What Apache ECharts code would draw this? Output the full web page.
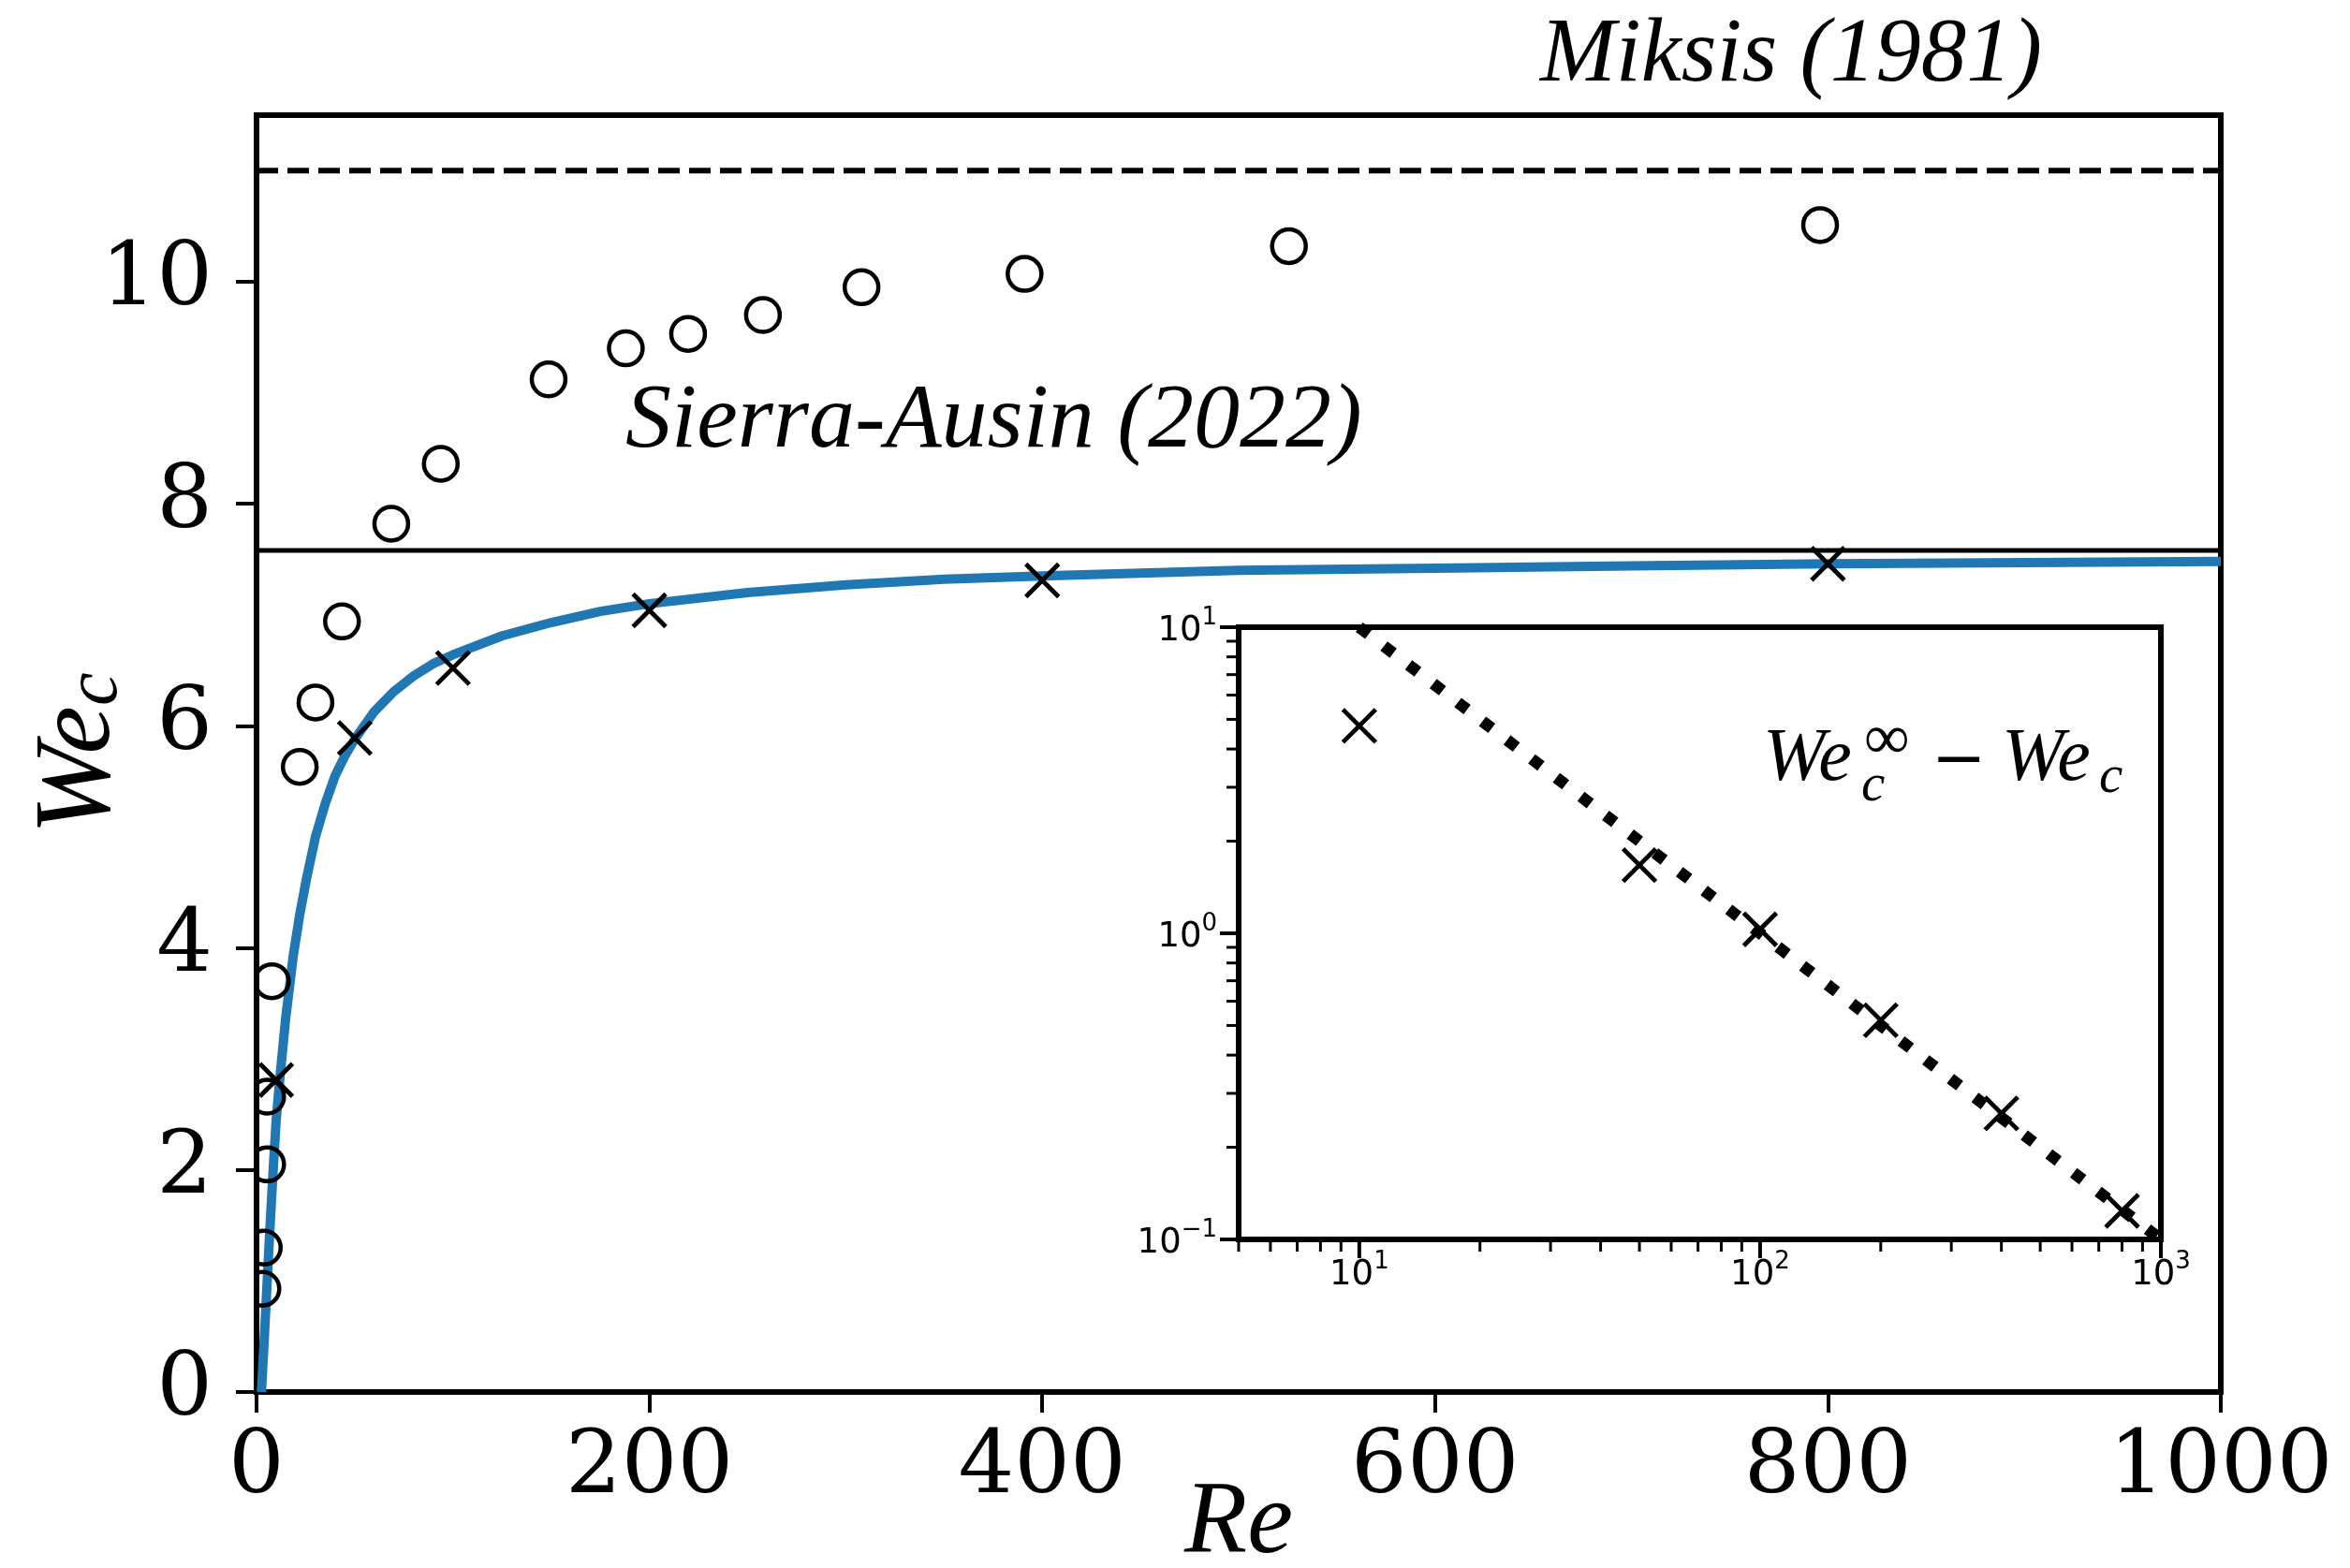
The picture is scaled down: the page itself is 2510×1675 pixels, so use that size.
<!DOCTYPE html>
<html>
<head>
<meta charset="utf-8">
<script src="https://cdn.jsdelivr.net/npm/echarts@6/dist/echarts.min.js"></script>
<style>
  html, body { margin: 0; padding: 0; background: #fff; }
  #chart { width: 2510px; height: 1675px; }
</style>
</head>
<body>
<div id="chart"></div>
<script>
// Critical Weber number We_c against Reynolds number Re

// Open circles: reference data set
const reCircles = [3, 3.7, 5.4, 5.4, 7.8, 22, 30, 43.5, 68.6, 93.8, 148.7, 188, 219.7, 257.8, 308, 391, 525.6, 796];
const weCircles = [0.93, 1.30, 2.05, 2.66, 3.70, 5.63, 6.21, 6.94, 7.82, 8.36, 9.12, 9.40, 9.53, 9.70, 9.95, 10.07, 10.32, 10.51];

// Crosses: computed thresholds
const reCrosses = [10, 50, 100, 200, 400, 800];
const weCrosses = [2.81, 5.89, 6.52, 7.04, 7.31, 7.46];

// Fitted curve through the thresholds
const reFit = [2.5, 4, 5.2, 6.8, 8.4, 10, 12, 14.8, 18.7, 22, 25.4, 30, 35, 40, 45, 50, 60, 70, 80, 90,
               100, 125, 150, 175, 200, 250, 300, 350, 400, 500, 600, 700, 800, 900, 1000];
const weFit = [0, 0.5, 0.92, 1.47, 1.98, 2.45, 2.85, 3.36, 3.93, 4.3, 4.62, 5.0, 5.3, 5.55, 5.73, 5.88, 6.13, 6.31, 6.45, 6.56,
               6.64, 6.81, 6.93, 7.03, 7.10, 7.20, 7.27, 7.32, 7.35, 7.40, 7.42, 7.44, 7.46, 7.47, 7.48];

// Asymptotic limits
const reSpan = [0, 1000];
const weMiksis = 11;
const weSierra = 7.58;

// Main axis ticks
const reTickStep = 200;
const weTicks = [0, 2, 4, 6, 8, 10];
const weMax = 11.5;

// Inset: distance to the asymptote on log-log axes
const reInset = [10, 50, 100, 200, 400, 800];
const dWeInset = [4.76, 1.67, 1.03, 0.52, 0.258, 0.124];
const reGuide = [10, 1000];
const dWeGuide = [10, 0.1];
const insetReRange = [5, 1000];
const insetDWeRange = [0.1, 10];

// Inset tick positions (decades and their subdivisions)
const insetMajorRe = [10, 100, 1000];
const insetMajorDWe = [0.1, 1, 10];
const insetMinorRe = [];
for (const dec of [1, 10, 100]) {
  for (let k = 2; k <= 9; k++) {
    const v = k * dec;
    if (v >= insetReRange[0] && v < insetReRange[1]) insetMinorRe.push(v);
  }
}
const insetMinorDWe = [];
for (const dec of [0.1, 1]) {
  for (let k = 2; k <= 9; k++) insetMinorDWe.push(+(k * dec).toFixed(3));
}

const BLACK = '#000';
const SERIF = 'DejaVu Serif';
const MATH = 'Liberation Serif';

const pairs = (xs, ys) => xs.map((x, i) => [x, ys[i]]);

function supLabel(v) {
  const e = Math.log10(v);
  if (Math.abs(e - Math.round(e)) > 0.01) return '';
  const n = Math.round(e);
  return '{b|10}{s|' + (n < 0 ? '\u2212' + (-n) : n) + '}';
}

const insetLabelRich = {
  b: { fontFamily: 'DejaVu Sans', fontSize: 37, lineHeight: 46, verticalAlign: 'bottom', color: BLACK },
  s: { fontFamily: 'DejaVu Sans', fontSize: 26, lineHeight: 26, verticalAlign: 'top', color: BLACK }
};

function tickRenderer(horizontal, len, width) {
  return function (params, api) {
    if (horizontal) {
      const p = api.coord([api.value(0), insetDWeRange[0]]);
      return { type: 'line', shape: { x1: p[0], y1: p[1], x2: p[0], y2: p[1] + len },
               style: { stroke: BLACK, lineWidth: width } };
    }
    const p = api.coord([insetReRange[0], api.value(1)]);
    return { type: 'line', shape: { x1: p[0], y1: p[1], x2: p[0] - len, y2: p[1] },
             style: { stroke: BLACK, lineWidth: width } };
  };
}

// Hollow circle markers, clipped to the plotting area
function circleRenderer(params, api) {
  const p = api.coord([api.value(0), api.value(1)]);
  return { type: 'circle', shape: { cx: p[0], cy: p[1], r: 18 },
           style: { fill: 'none', stroke: BLACK, lineWidth: 4.5 } };
}

const mathItalic = { fontFamily: MATH, fontStyle: 'italic', color: BLACK };

const FORMULA_SIZE = 80;
const SUB_SIZE = 57;

function formulaText(str, x, y, size, italic, family) {
  return {
    type: 'text', x: x, y: y, silent: true,
    style: { text: str, fontSize: size, fontFamily: family || MATH, fontStyle: italic ? 'italic' : 'normal',
             fill: BLACK, verticalAlign: 'middle' }
  };
}

const chart = echarts.init(document.getElementById('chart'), null, { renderer: 'canvas' });

chart.setOption({
  animation: false,
  backgroundColor: '#fff',
  grid: [
    { left: 274, top: 123, width: 2098, height: 1364, show: true,
      borderColor: BLACK, borderWidth: 6, backgroundColor: 'transparent', outerBoundsMode: 'none' },
    { left: 1323, top: 670, width: 985, height: 654, show: true,
      borderColor: BLACK, borderWidth: 6, backgroundColor: '#fff', outerBoundsMode: 'none' }
  ],
  xAxis: [
    {
      gridIndex: 0, type: 'value', min: reSpan[0], max: reSpan[1], interval: reTickStep,
      axisLine: { lineStyle: { color: BLACK, width: 6 } },
      axisTick: { length: 22, lineStyle: { color: BLACK, width: 4 } },
      axisLabel: { fontFamily: SERIF, fontSize: 94, color: BLACK, margin: 36, formatter: v => String(v) },
      splitLine: { show: false },
      name: 'Re', nameLocation: 'middle', nameGap: 87, nameMoveOverlap: false,
      nameTextStyle: Object.assign({ fontSize: 110, lineHeight: 110 }, mathItalic)
    },
    {
      gridIndex: 1, type: 'log', logBase: 10, min: insetReRange[0], max: insetReRange[1],
      axisLine: { lineStyle: { color: BLACK, width: 6 } },
      axisTick: { show: false },
      axisLabel: { formatter: supLabel, rich: insetLabelRich, margin: 11 },
      splitLine: { show: false }
    }
  ],
  yAxis: [
    {
      gridIndex: 0, type: 'value', min: 0, max: weMax, interval: 2,
      axisLine: { lineStyle: { color: BLACK, width: 6 } },
      axisTick: { length: 22, lineStyle: { color: BLACK, width: 4 }, customValues: weTicks },
      axisLabel: { fontFamily: SERIF, fontSize: 94, color: BLACK, margin: 47, customValues: weTicks },
      splitLine: { show: false },
      name: '{w|We}{c|c}', nameLocation: 'middle', nameGap: 131, nameRotate: 90, nameMoveOverlap: false,
      nameTextStyle: {
        rich: {
          w: Object.assign({ fontSize: 116, lineHeight: 116, padding: [0, 0, 9, 0], verticalAlign: 'top' }, mathItalic),
          c: Object.assign({ fontSize: 80, lineHeight: 80, verticalAlign: 'bottom' }, mathItalic)
        }
      }
    },
    {
      gridIndex: 1, type: 'log', logBase: 10, min: insetDWeRange[0], max: insetDWeRange[1],
      axisLine: { lineStyle: { color: BLACK, width: 6 } },
      axisTick: { show: false },
      axisLabel: { formatter: supLabel, rich: insetLabelRich, margin: 23 },
      splitLine: { show: false }
    }
  ],
  series: [
    {
      name: 'Miksis (1981)', type: 'line', xAxisIndex: 0, yAxisIndex: 0,
      data: reSpan.map(r => [r, weMiksis]), symbol: 'none', silent: true,
      lineStyle: { color: BLACK, width: 6, type: [23, 10] }
    },
    {
      name: 'Sierra-Ausin (2022)', type: 'line', xAxisIndex: 0, yAxisIndex: 0,
      data: reSpan.map(r => [r, weSierra]), symbol: 'none', silent: true,
      lineStyle: { color: BLACK, width: 5 }
    },
    {
      name: 'fit', type: 'line', xAxisIndex: 0, yAxisIndex: 0,
      data: pairs(reFit, weFit), symbol: 'none', smooth: false, silent: true,
      lineStyle: { color: '#1f77b4', width: 10, join: 'round' }
    },
    {
      name: 'circles', type: 'custom', xAxisIndex: 0, yAxisIndex: 0, clip: true, silent: true,
      data: pairs(reCircles, weCircles), renderItem: circleRenderer, z: 4
    },
    {
      name: 'crosses', type: 'scatter', xAxisIndex: 0, yAxisIndex: 0,
      data: pairs(reCrosses, weCrosses), symbol: 'path://M0,0L10,10M10,0L0,10', symbolSize: 35, clip: true,
      itemStyle: { color: 'none', borderColor: BLACK, borderWidth: 4.8, opacity: 1 }, z: 5
    },
    {
      name: 'guide', type: 'line', xAxisIndex: 1, yAxisIndex: 1,
      data: pairs(reGuide, dWeGuide), symbol: 'none', silent: true, clip: true,
      lineStyle: { color: BLACK, width: 12.5, type: [12.5, 20.6], cap: 'butt' }
    },
    {
      name: 'inset crosses', type: 'scatter', xAxisIndex: 1, yAxisIndex: 1,
      data: pairs(reInset, dWeInset), symbol: 'path://M0,0L10,10M10,0L0,10', symbolSize: 35,
      itemStyle: { color: 'none', borderColor: BLACK, borderWidth: 4.8, opacity: 1 }, z: 5
    },
    {
      type: 'custom', xAxisIndex: 1, yAxisIndex: 1, silent: true, clip: false,
      data: insetMajorRe.map(v => [v, insetDWeRange[0]]), renderItem: tickRenderer(true, 20, 4)
    },
    {
      type: 'custom', xAxisIndex: 1, yAxisIndex: 1, silent: true, clip: false,
      data: insetMinorRe.map(v => [v, insetDWeRange[0]]), renderItem: tickRenderer(true, 13, 3)
    },
    {
      type: 'custom', xAxisIndex: 1, yAxisIndex: 1, silent: true, clip: false,
      data: insetMajorDWe.map(v => [insetReRange[0], v]), renderItem: tickRenderer(false, 20, 4)
    },
    {
      type: 'custom', xAxisIndex: 1, yAxisIndex: 1, silent: true, clip: false,
      data: insetMinorDWe.map(v => [insetReRange[0], v]), renderItem: tickRenderer(false, 13, 3)
    }
  ],
  graphic: [
    { type: 'text', left: 1645, top: 12, silent: true,
      style: { text: 'Miksis (1981)', fontSize: 97, fontFamily: MATH, fontStyle: 'italic', fill: BLACK } },
    { type: 'text', left: 668, top: 402, silent: true,
      style: { text: 'Sierra-Ausin (2022)', fontSize: 98, fontFamily: MATH, fontStyle: 'italic', fill: BLACK } },
    // We_c^inf - We_c
    formulaText('We', 1883, 812, FORMULA_SIZE, true),
    formulaText('c', 1988, 840, SUB_SIZE, true),
    formulaText('\u221E', 1991, 792, 68, false),
    formulaText('\u2212', 2063, 815, 70, false, 'DejaVu Serif'),
    formulaText('We', 2138, 812, FORMULA_SIZE, true),
    formulaText('c', 2242, 831, SUB_SIZE, true)
  ]
});
</script>
</body>
</html>
